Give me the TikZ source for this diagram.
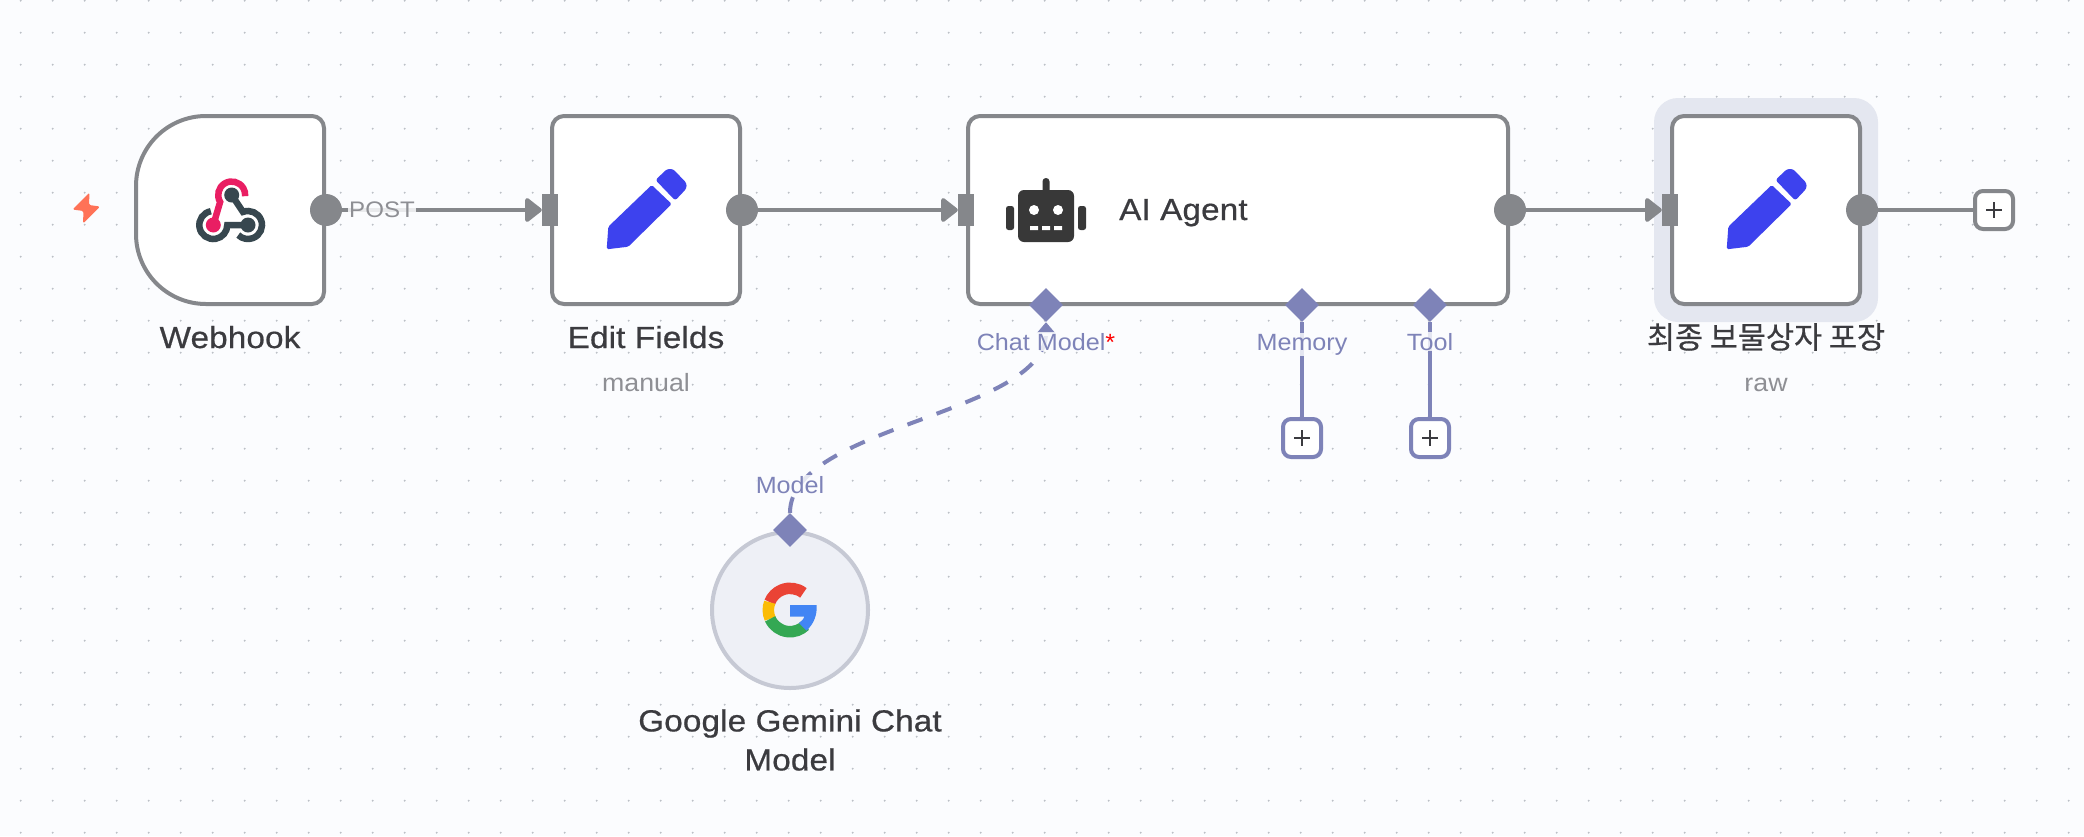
\documentclass[tikz,border=0pt]{standalone}
\usepackage{fontspec}
\setmainfont[FakeStretch=1.07]{Liberation Sans}
\newfontfamily\titlefont[FakeStretch=1.09,FakeBold=0.6,LetterSpace=0.5]{Liberation Sans}
\newfontfamily\krfont[FakeBold=0.4]{Noto Sans CJK KR}
\usetikzlibrary{arrows.meta,shapes.geometric}
\definecolor{bgc}{HTML}{FBFCFE}
\definecolor{dotc}{HTML}{BCC0C6}
\definecolor{edgec}{HTML}{85878B}
\definecolor{purp}{HTML}{7E83B8}
\definecolor{textc}{HTML}{3B3B3F}
\definecolor{subc}{HTML}{8E8F94}
\definecolor{halo}{HTML}{E4E7F0}
\definecolor{gemfill}{HTML}{EEF0F6}
\definecolor{gemline}{HTML}{C6C9D4}
\definecolor{penc}{HTML}{3D42EE}
\definecolor{robotc}{HTML}{383838}
\definecolor{hookpink}{HTML}{E91E63}
\definecolor{hookdark}{HTML}{37474F}
\definecolor{boltc}{HTML}{FF7257}
\tikzset{
  boxnode/.style={draw=edgec,fill=white,line width=4pt,rounded corners=12pt,inner sep=0pt,minimum height=188pt},
  outport/.style={circle,fill=edgec,draw=none,minimum size=32pt,inner sep=0pt},
  inport/.style={rectangle,fill=edgec,draw=none,minimum width=16pt,minimum height=32pt,inner sep=0pt},
  wire/.style={draw=edgec,line width=4pt},
  wirearrow/.style={wire,-{Triangle[length=18pt,width=27pt,round]}},
  subport/.style={diamond,aspect=1,fill=purp,draw=none,minimum width=34pt,minimum height=34pt,inner sep=0pt},
  subwire/.style={draw=purp,line width=4pt},
  plusbox/.style={draw=#1,fill=white,line width=4pt,rounded corners=8pt,minimum size=38pt,inner sep=0pt},
  title/.style={text=textc,font=\titlefont\fontsize{30.5}{39}\selectfont,align=center,inner sep=0pt},
  subtitle/.style={text=subc,font=\fontsize{25}{30}\selectfont,inner sep=0pt},
  edgelabel/.style={text=subc,font=\fontsize{22.5}{27}\selectfont,fill=bgc,fill opacity=.85,text opacity=1,inner sep=1pt},
  portlabel/.style={text=purp,font=\fontsize{23.5}{27}\selectfont,fill=bgc,fill opacity=.82,text opacity=1,inner sep=1pt},
}
\newcommand{\pencilicon}[2]{%
  \begin{scope}[shift={(#1,#2)}]
    \fill[penc,rounded corners=1.5pt] (5.7,-25) -- (25.7,-6) -- (-17.7,36.7) -- (-39.3,39.3) -- (-37.7,16.7) -- cycle;
    \fill[penc,rounded corners=2.5pt] (9.5,-30) -- (21,-41) -- (27,-41) -- (40.5,-27) -- (40.5,-21.5) -- (29.2,-9.5) -- cycle;
  \end{scope}}
\newcommand{\plussign}[2]{%
  \draw[textc,line width=1.5pt] (#1-8,#2) -- (#1+8,#2) (#1,#2-8) -- (#1,#2+8);}
\begin{document}
\begin{tikzpicture}[x=1pt,y=1pt,yscale=-1]
\useasboundingbox (0,0) rectangle (2084,836);
\fill[bgc] (0,0) rectangle (2084,836);
\fill[dotc] \foreach \i in {0,...,64} { \foreach \j in {0,...,26} { ({20.7+32*\i},{0.7+32*\j}) circle (1.05) } };
% halo
\fill[halo,rounded corners=24pt] (1654,98) rectangle (1878,322);
% Webhook
\draw[fill=white,draw=edgec,line width=4pt] (206,116) -- (312,116) arc (270:360:12) -- (324,292) arc (0:90:12) -- (206,304) arc (90:180:70) -- (136,186) arc (180:270:70) -- cycle;
\node[minimum width=188pt,minimum height=188pt,inner sep=0pt] (webhook) at (230,210) {};
% boxes
\node[boxnode,minimum width=188pt] (edit) at (646,210) {};
\node[boxnode,minimum width=540pt] (agent) at (1238,210) {};
\node[boxnode,minimum width=188pt] (final) at (1766,210) {};
\node[circle,draw=gemline,fill=gemfill,line width=4pt,minimum size=156pt,inner sep=0pt] (gemini) at (790,610) {};
% ports
\node[outport] (whout) at (326,210) {};
\node[inport] (editin) at (550,210) {};
\node[outport] (editout) at (742,210) {};
\node[inport] (agentin) at (966,210) {};
\node[outport] (agentout) at (1510,210) {};
\node[inport] (finalin) at (1670,210) {};
\node[outport] (finalout) at (1862,210) {};
\node[plusbox=edgec] (plusmain) at (1994,210) {};
\node[plusbox=purp] (plusmem) at (1302,438) {};
\node[plusbox=purp] (plustool) at (1430,438) {};
\node[subport] (chatp) at (1046,305) {};
\node[subport] (memp) at (1302,305) {};
\node[subport] (toolp) at (1430,305) {};
\node[subport] (modelp) at (790,530) {};
% connectors
\draw[wirearrow] (whout) -- (editin);
\draw[wirearrow] (editout) -- (agentin);
\draw[wirearrow] (agentout) -- (finalin);
\draw[wire] (finalout) -- (plusmain);
\draw[subwire] (memp) -- (plusmem);
\draw[subwire] (toolp) -- (plustool);
\draw[subwire,dash pattern=on 16pt off 15pt,-{Triangle[length=11pt,width=18pt]}] (modelp.north) .. controls (790,425) and (1046,415) .. (chatp.south);
% plus signs
\plussign{1994}{210}
\plussign{1302}{438}
\plussign{1430}{438}
% labels
\node[edgelabel,anchor=base] (postlab) at (382,217.5) {POST};
\node[portlabel,anchor=base] (chatlab) at (1046,350) {Chat Model\textcolor{red}{*}};
\node[portlabel,anchor=base] (memlab) at (1302,350) {Memory};
\node[portlabel,anchor=base] (toollab) at (1430,350) {Tool};
\node[portlabel,anchor=base] (modellab) at (790,493) {Model};
\node[title,anchor=base] (whlab) at (230,348) {Webhook};
\node[title,anchor=base] (editlab) at (646,348) {Edit Fields};
\node[subtitle,anchor=base] (manuallab) at (646,391) {manual};
\node[title,anchor=base west] (agentlab) at (1119,220) {AI Agent};
\node[title,font=\krfont\fontsize{30.5}{39}\selectfont] (finallab) at (1766,337) {최종 보물상자 포장};
\node[subtitle,anchor=base] (rawlab) at (1766,391) {raw};
\node[title] (gemlab) at (790,740) {Google Gemini Chat\\Model};
% bolt
\fill[boltc,rounded corners=1.5pt] (89.5,192.5) -- (72.5,209.5) -- (83.5,211) -- (83,223.5) -- (100,206.5) -- (89,205) -- cycle;
% webhook icon
\draw[hookpink,line width=6.5pt] (213.3,225) -- ({231.7+13.5*cos(149)},{195+13.5*sin(149)}) arc (149:365:13.5);
\fill[hookpink] (213.3,225) circle (7.5);
\draw[hookdark,line width=6.5pt] (231.7,195) -- ({248+14*cos(249)},{225+14*sin(249)}) arc (249:494:14);
\fill[hookdark] (231.7,195) circle (7.5);
\draw[hookdark,line width=6.5pt] ({213.3+14*cos(260)},{225+14*sin(260)}) arc (260:0:14) -- (248,225);
\fill[hookdark] (248,225) circle (7.5);
% pencils
\pencilicon{646}{210}
\pencilicon{1766}{210}
% robot
\fill[robotc,rounded corners=6pt] (1018,190) rectangle (1074,242);
\fill[robotc,rounded corners=3.4pt] (1042.5,178) rectangle (1049.5,194);
\fill[robotc,rounded corners=2.5pt] (1006,206) rectangle (1014,230);
\fill[robotc,rounded corners=2.5pt] (1078,206) rectangle (1086,230);
\fill[white] (1034,210) circle (5) (1058,210) circle (5);
\fill[white] (1030,226) rectangle (1038,230) (1042,226) rectangle (1050,230) (1054,226) rectangle (1062,230);
% Google G
\begin{scope}[shift={(790,610)},line width=11.5pt]
  \draw[color={rgb,255:red,234;green,67;blue,53}] (308:21.7) arc (308:201:21.7);
  \draw[color={rgb,255:red,251;green,188;blue,5}] (201:21.7) arc (201:156:21.7);
  \draw[color={rgb,255:red,52;green,168;blue,83}] (156:21.7) arc (156:45:21.7);
  \fill[color={rgb,255:red,66;green,133;blue,244}] (0,-5) -- (26.5,-5) .. controls (27.5,4) and (24,14) .. (16.5,20.5) -- (9,13) .. controls (12,10.5) and (14,9) .. (14.5,6.5) -- (0,6.5) -- cycle;
\end{scope}
\end{tikzpicture}
\end{document}
